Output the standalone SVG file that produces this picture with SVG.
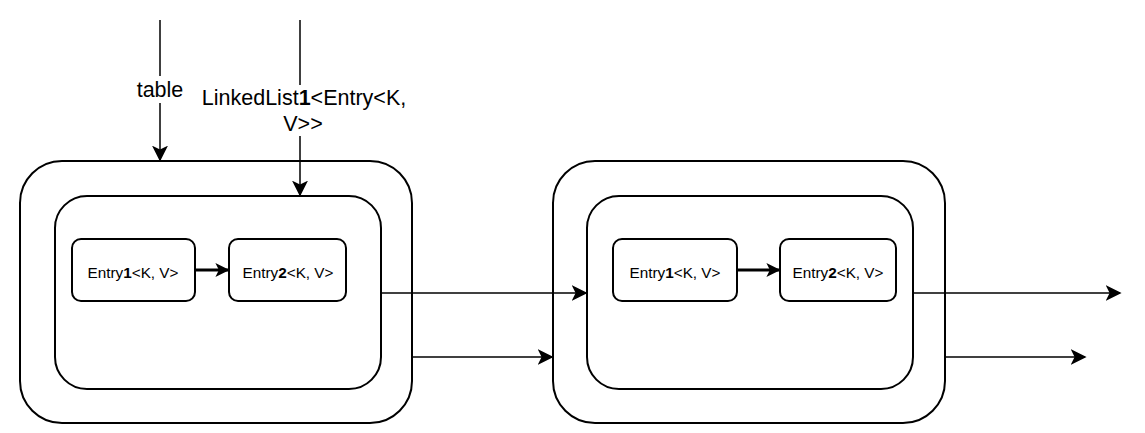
<svg xmlns="http://www.w3.org/2000/svg" width="1145" height="433" viewBox="0 0 1145 433">
<style>
.box{fill:#fff;stroke:#000;stroke-width:2}
.ln{fill:none;stroke:#000;stroke-width:1.5}
.thick{fill:none;stroke:#000;stroke-width:3}
text{font-family:"Liberation Sans",Arial,sans-serif;fill:#000}
.e{font-size:15.3px;text-anchor:middle}
.lbl{font-size:21.5px;text-anchor:middle}
</style>
<defs>
<marker id="ah" viewBox="0 0 10 10" refX="9" refY="5" markerWidth="14" markerHeight="14" markerUnits="userSpaceOnUse" orient="auto">
<path d="M0,0 L10,5 L0,10 L2.5,5 Z" fill="#000"/>
</marker>
<marker id="ah2" viewBox="0 0 10 10" refX="9" refY="5" markerWidth="16" markerHeight="16" markerUnits="userSpaceOnUse" orient="auto">
<path d="M0,0 L10,5 L0,10 L2.5,5 Z" fill="#000"/>
</marker>
</defs>
<g id="outer1"><rect class="box" x="20" y="161" width="392" height="262" rx="42"/></g>
<g id="inner1"><rect class="box" x="55" y="196" width="326" height="193" rx="32"/></g>
<g id="entry1a"><rect class="box" x="72" y="239" width="123" height="62" rx="9"/><text class="e" x="133" y="278">Entry<tspan font-weight="bold">1</tspan>&lt;K, V&gt;</text></g>
<g id="entry2a"><rect class="box" x="229" y="239" width="117" height="62" rx="9"/><text class="e" x="288" y="278">Entry<tspan font-weight="bold">2</tspan>&lt;K, V&gt;</text></g>
<g id="outer2"><rect class="box" x="553" y="161" width="392" height="262" rx="42"/></g>
<g id="inner2"><rect class="box" x="587" y="196" width="326" height="193" rx="32"/></g>
<g id="entry1b"><rect class="box" x="613" y="239" width="124" height="62" rx="9"/><text class="e" x="675" y="278">Entry<tspan font-weight="bold">1</tspan>&lt;K, V&gt;</text></g>
<g id="entry2b"><rect class="box" x="780" y="239" width="116" height="62" rx="9"/><text class="e" x="838" y="278">Entry<tspan font-weight="bold">2</tspan>&lt;K, V&gt;</text></g>
<g id="connectors">
<path class="ln" d="M160,20 V160" marker-end="url(#ah2)"/>
<path class="ln" d="M300,20 V195" marker-end="url(#ah2)"/>
<path class="thick" d="M195,270 H228" marker-end="url(#ah)"/>
<path class="thick" d="M737,270 H779" marker-end="url(#ah)"/>
<path class="ln" d="M381,293 H586" marker-end="url(#ah2)"/>
<path class="ln" d="M412,357 H552" marker-end="url(#ah2)"/>
<path class="ln" d="M913,293 H1120" marker-end="url(#ah2)"/>
<path class="ln" d="M945,357 H1085" marker-end="url(#ah2)"/>
<rect x="133" y="76" width="54" height="27" fill="#fff"/>
<text class="lbl" x="160" y="97">table</text>
<rect x="202" y="85" width="204" height="26" fill="#fff"/>
<rect x="282" y="111" width="42" height="25" fill="#fff"/>
<text class="lbl" x="304" y="105">LinkedList<tspan font-weight="bold">1</tspan>&lt;Entry&lt;K,</text>
<text class="lbl" x="303" y="131">V&gt;&gt;</text>
</g>
</svg>
